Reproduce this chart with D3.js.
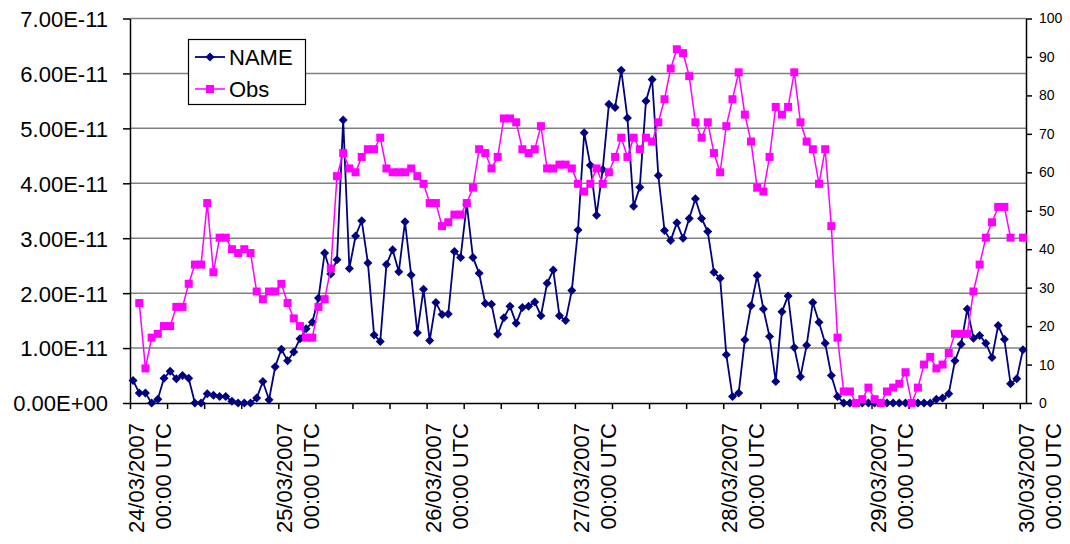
<!DOCTYPE html>
<html>
<head>
  <meta charset="utf-8">
  <title>NAME vs Obs</title>
  <style>
    body { margin: 0; background: #fff; }
    svg text { font-family: "Liberation Sans", Arial, sans-serif; fill: #000; }
  </style>
  <script src="https://d3js.org/d3.v7.min.js"></script>
</head>
<body>
  <svg id="chart" width="1070" height="544"></svg>

  <script>
    // hourly categories, 24/03/2007 00:00 to 30/03/2007 00:00 UTC
    const startTime = new Date(Date.UTC(2007, 2, 24, 0));
    const categories = d3.range(145).map(h => new Date(startTime.getTime() + h * 3600e3));

    const dayLabels = ["24/03/2007", "25/03/2007", "26/03/2007", "27/03/2007",
                       "28/03/2007", "29/03/2007", "30/03/2007"];

    // NAME, units of 1E-11 (left axis)
    const nameValues = [
      0.41, 0.18, 0.18, 0.00, 0.07, 0.45, 0.58, 0.44, 0.50, 0.45, 0.00, 0.00,
      0.17, 0.14, 0.12, 0.12, 0.03, 0.00, 0.00, 0.00, 0.09, 0.39, 0.06, 0.66,
      0.98, 0.77, 0.93, 1.17, 1.35, 1.47, 1.91, 2.73, 2.35, 2.61, 5.15, 2.45,
      3.04, 3.32, 2.55, 1.24, 1.12, 2.52, 2.79, 2.39, 3.30, 2.33, 1.28, 2.07,
      1.14, 1.83, 1.61, 1.62, 2.76, 2.65, 3.62, 2.65, 2.36, 1.81, 1.80, 1.25,
      1.55, 1.76, 1.45, 1.74, 1.76, 1.84, 1.59, 2.18, 2.42, 1.59, 1.50, 2.05,
      3.15, 4.92, 4.33, 3.42, 4.25, 5.44, 5.38, 6.06, 5.19, 3.58, 3.93, 5.50,
      5.89, 4.14, 3.14, 2.96, 3.28, 3.00, 3.36, 3.72, 3.36, 3.12, 2.38, 2.27,
      0.88, 0.12, 0.18, 1.15, 1.77, 2.32, 1.71, 1.21, 0.39, 1.66, 1.95, 1.01,
      0.48, 1.05, 1.83, 1.47, 1.09, 0.50, 0.12, 0.00, 0.00, 0.00, 0.00, 0.00,
      0.00, 0.00, 0.00, 0.00, 0.00, 0.00, 0.00, 0.00, 0.00, 0.00, 0.07, 0.09,
      0.17, 0.77, 1.07, 1.71, 1.18, 1.23, 1.09, 0.83, 1.41, 1.16, 0.35, 0.44,
      0.97
    ];

    // Obs (right axis)
    const obsValues = [
      null, 26, 9, 17, 18, 20, 20, 25, 25, 31, 36, 36,
      52, 34, 43, 43, 40, 39, 40, 39, 29, 27, 29, 29,
      31, 26, 22, 20, 17, 17, 25, 27, 35, 59, 65, 61,
      60, 64, 66, 66, 69, 61, 60, 60, 60, 61, 59, 57,
      52, 52, 46, 47, 49, 49, 52, 56, 66, 65, 61, 64,
      74, 74, 73, 66, 65, 66, 72, 61, 61, 62, 62, 61,
      57, 55, 57, 61, 57, 60, 64, 69, 64, 69, 66, 69,
      68, 73, 79, 87, 92, 91, 85, 73, 69, 73, 65, 60,
      72, 79, 86, 75, 68, 56, 55, 64, 77, 75, 77, 86,
      73, 68, 66, 57, 66, 46, 17, 3, 3, 0, 1, 4,
      1, 0, 3, 4, 5, 8, 0, 4, 10, 12, 9, 10,
      13, 18, 18, 18, 29, 36, 43, 47, 51, 51, 43, null,
      43
    ];

    const leftTicks = [0, 1, 2, 3, 4, 5, 6, 7];
    const rightTicks = [0, 10, 20, 30, 40, 50, 60, 70, 80, 90, 100];

    const svg = d3.select('#chart');
    const plotLeft = 130, plotRight = 1026, plotTop = 18.5, plotBottom = 403;

    const x = d3.scaleLinear().domain([0, categories.length]).range([plotLeft, plotRight]);
    const yL = d3.scaleLinear().domain([0, 7]).range([plotBottom, plotTop]);
    const yR = d3.scaleLinear().domain([0, 100]).range([plotBottom, plotTop]);
    const cx = i => x(i + 0.5);

    // gridlines
    svg.append('g')
      .selectAll('line')
      .data(leftTicks.slice(1))
      .enter().append('line')
      .attr('x1', plotLeft).attr('x2', plotRight)
      .attr('y1', d => yL(d)).attr('y2', d => yL(d))
      .attr('stroke', '#808080').attr('stroke-width', 1.5);

    // left axis
    const gL = svg.append('g').attr('transform', `translate(${plotLeft},0)`)
      .call(d3.axisLeft(yL).tickValues(leftTicks).tickSize(7).tickSizeOuter(0)
        .tickFormat(d => d === 0 ? '0.00E+00' : d.toFixed(2) + 'E-11'));
    gL.selectAll('text').attr('font-size', 22).attr('x', -22).attr('dy', '0.36em');

    // right axis
    const gR = svg.append('g').attr('transform', `translate(${plotRight},0)`)
      .call(d3.axisRight(yR).tickValues(rightTicks).tickSize(6).tickSizeOuter(0));
    gR.selectAll('text').attr('font-size', 14).attr('x', 13);

    // bottom axis
    svg.append('g').attr('transform', `translate(0,${plotBottom})`)
      .call(d3.axisBottom(x).tickValues(d3.range(0, 145, 6)).tickSize(6).tickSizeOuter(0).tickFormat(''));

    svg.selectAll('.domain, .tick line').attr('stroke', '#000').attr('stroke-width', 1.5);
    svg.selectAll('.tick text').style('font-family', '"Liberation Sans", Arial, sans-serif');

    // date labels, rotated
    const lab = svg.append('g').selectAll('g')
      .data(dayLabels)
      .enter().append('g')
      .attr('transform', (d, i) => `translate(${x(i * 24)},423) rotate(-90)`);
    lab.append('text').attr('text-anchor', 'end').attr('y', 14).attr('font-size', 22).text(d => d);
    lab.append('text').attr('text-anchor', 'end').attr('y', 41).attr('font-size', 22).text('00:00 UTC');

    // NAME series
    const diamond = 'M0,-4.5L4.5,0L0,4.5L-4.5,0Z';
    svg.append('path')
      .datum(nameValues)
      .attr('fill', 'none').attr('stroke', '#000080').attr('stroke-width', 1.8)
      .attr('d', d3.line().defined(d => d != null).x((d, i) => cx(i)).y(d => yL(d)));
    svg.append('g').selectAll('path')
      .data(nameValues.map((v, i) => [i, v]).filter(p => p[1] != null))
      .enter().append('path')
      .attr('d', diamond).attr('fill', '#000080')
      .attr('transform', p => `translate(${cx(p[0])},${yL(p[1])})`);

    // Obs series
    svg.append('path')
      .datum(obsValues)
      .attr('fill', 'none').attr('stroke', '#ff00ff').attr('stroke-width', 1.5)
      .attr('d', d3.line().defined(d => d != null).x((d, i) => cx(i)).y(d => yR(d)));
    svg.append('g').selectAll('rect')
      .data(obsValues.map((v, i) => [i, v]).filter(p => p[1] != null))
      .enter().append('rect')
      .attr('width', 8).attr('height', 8).attr('fill', '#ff00ff')
      .attr('x', p => cx(p[0]) - 4).attr('y', p => yR(p[1]) - 4);

    // legend
    const lg = svg.append('g');
    lg.append('rect').attr('x', 188.5).attr('y', 39.5).attr('width', 117).attr('height', 65)
      .attr('fill', '#fff').attr('stroke', '#000').attr('stroke-width', 1.2);
    lg.append('line').attr('x1', 195).attr('x2', 225).attr('y1', 57).attr('y2', 57)
      .attr('stroke', '#000080').attr('stroke-width', 1.8);
    lg.append('path').attr('d', diamond).attr('fill', '#000080').attr('transform', 'translate(210,57)');
    lg.append('text').attr('x', 229).attr('y', 65).attr('font-size', 22).text('NAME');
    lg.append('line').attr('x1', 195).attr('x2', 225).attr('y1', 89).attr('y2', 89)
      .attr('stroke', '#ff00ff').attr('stroke-width', 1.5);
    lg.append('rect').attr('x', 206).attr('y', 85).attr('width', 8).attr('height', 8).attr('fill', '#ff00ff');
    lg.append('text').attr('x', 229).attr('y', 97).attr('font-size', 22).text('Obs');
  </script>
</body>
</html>
